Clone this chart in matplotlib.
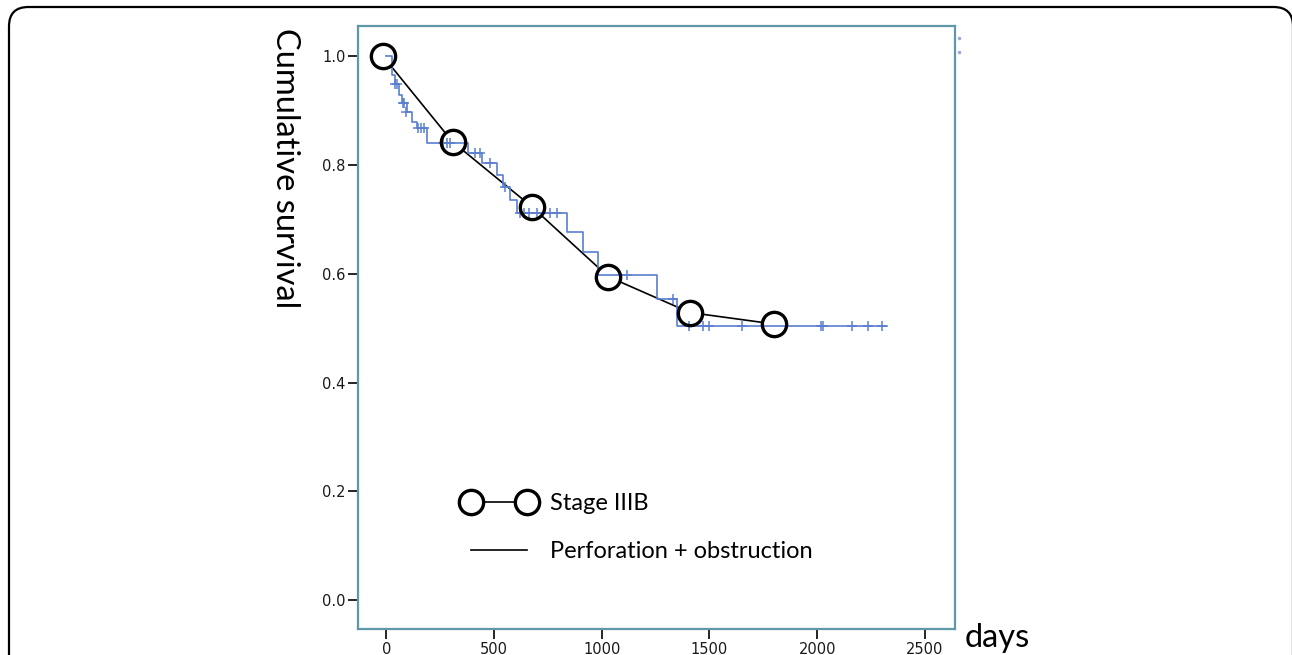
import matplotlib
matplotlib.use("Agg")
import matplotlib.pyplot as plt
from matplotlib.lines import Line2D
from matplotlib.patches import FancyBboxPatch

# ---- data ----
# Kaplan-Meier step curve (Perforation + obstruction)
km_times = [0, 25, 38, 60, 72, 95, 118, 140, 187, 378, 443, 513, 542, 573, 605, 838, 913, 982, 1256, 1349, 2322]
km_surv = [1.0, 0.965, 0.950, 0.930, 0.915, 0.898, 0.880, 0.868, 0.841, 0.822, 0.804, 0.782, 0.760, 0.736, 0.713, 0.678, 0.641, 0.598, 0.554, 0.504, 0.504]
# censored observations
cens_times = [42, 50, 75, 82, 90, 145, 160, 175, 262, 280, 294, 411, 434, 480, 551,
              620, 640, 660, 700, 760, 790, 1116, 1330, 1406, 1471, 1499, 1649,
              2020, 2028, 2160, 2237, 2299]
cens_surv = [0.950, 0.950, 0.915, 0.915, 0.898, 0.868, 0.868, 0.868, 0.841, 0.841, 0.841,
             0.822, 0.822, 0.804, 0.760, 0.713, 0.713, 0.713, 0.713, 0.713, 0.713,
             0.598, 0.554, 0.504, 0.504, 0.504, 0.504, 0.504, 0.504, 0.504, 0.504, 0.504]
# Stage IIIB overlay (circles)
stage_days = [-15, 307, 674, 1030, 1409, 1799]
stage_surv = [1.0, 0.843, 0.724, 0.595, 0.529, 0.508]
# stray legend remnant dots (top right, outside axes)
stray_x = [2658, 2658]
stray_y = [1.034, 1.008]

xticks = [0, 500, 1000, 1500, 2000, 2500]
yticks = [0.0, 0.2, 0.4, 0.6, 0.8, 1.0]

# ---- figure ----
W, H = 1292, 655
fig = plt.figure(figsize=(W / 100, H / 100), dpi=100)
ax = fig.add_axes([358 / W, 1 - 629 / H, (955 - 358) / W, (629 - 26) / H])

blue = "#5a7ed0"
frame_col = "#5e98a9"

# black connecting line of Stage IIIB
ax.plot(stage_days, stage_surv, color="black", lw=1.2, zorder=2)
# white-filled circles hide the line inside
ax.plot(stage_days, stage_surv, ls="none", marker="o", ms=17.5, mfc="white",
        mec="white", zorder=3)
# KM curve
ax.step(km_times, km_surv, where="post", color=blue, lw=1.2, zorder=4)
ax.plot(cens_times, cens_surv, ls="none", marker="+", ms=6.5, mew=1.1,
        color=blue, zorder=4)
# circle outlines on top
ax.plot(stage_days, stage_surv, ls="none", marker="o", ms=17.5, mfc="none",
        mec="black", mew=2.4, zorder=5)
ax.plot(stray_x, stray_y, ls="none", marker="o", ms=1.5, color="#9aa6dd",
        clip_on=False)

ax.set_xlim(-132, 2640)
ax.set_ylim(-0.053, 1.056)
ax.set_xticks(xticks)
ax.set_xticklabels([str(t) for t in xticks])
ax.set_yticks(yticks)
ax.set_yticklabels([f"{t:.1f}" for t in yticks])
ax.tick_params(direction="out", length=7, width=1.2, color="black",
               labelsize=10.5, pad=2, labelcolor="#1a1a1a")
for sp in ax.spines.values():
    sp.set_color(frame_col)
    sp.set_linewidth(1.6)

# legend
h1 = Line2D([], [], color="black", lw=1.2, marker="o", ms=17.5, mfc="white",
            mec="black", mew=2.4)
h2 = Line2D([], [], color="black", lw=1.2)
leg = ax.legend([h1, h2], ["Stage IIIB", "Perforation + obstruction"],
                loc="upper left", bbox_to_anchor=(0.158, 0.245),
                frameon=False, numpoints=2, handlelength=2.97,
                handletextpad=0.65, labelspacing=1.15, borderpad=0,
                prop={"family": "Lato", "size": 17})

# axis titles
fig.text(285 / W, 1 - 28 / H, "Cumulative survival", rotation=-90,
         ha="center", va="top", fontsize=23.5, family="Lato")
fig.text(965 / W, 1 - 623 / H, "days", ha="left", va="top", fontsize=23.5,
         family="Lato")

# outer rounded frame
frame = FancyBboxPatch((9 / W, -0.05), (1293 - 9) / W, 1 - 7 / H + 0.05,
                       boxstyle="round,pad=0,rounding_size=0.015",
                       transform=fig.transFigure, fill=False, ec="black",
                       lw=1.6, mutation_aspect=W / H, clip_on=False)
fig.patches.append(frame)

fig.savefig("out.png", dpi=100)
